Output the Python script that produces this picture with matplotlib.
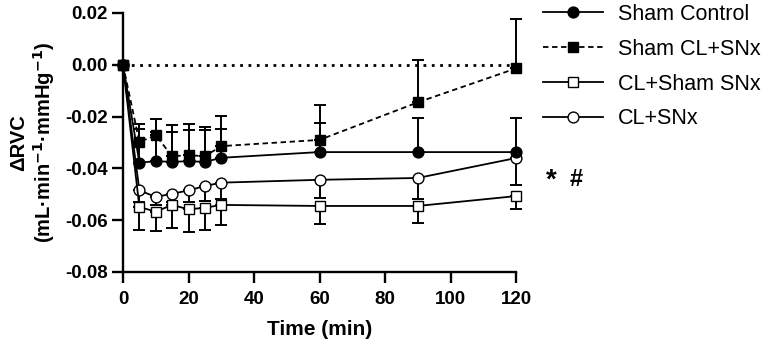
import matplotlib
matplotlib.use("Agg")
import matplotlib.pyplot as plt
from matplotlib.lines import Line2D

time_min = [0, 5, 10, 15, 20, 25, 30, 60, 90, 120]

sham_control = [0, -0.0378, -0.0372, -0.0375, -0.0372, -0.0375, -0.0359, -0.0337, -0.0337, -0.0337]
sham_control_err = [0, 0.0131, 0.0112, 0.0116, 0.0122, 0.0122, 0.0112, 0.0112, 0.0130, 0.0130]

sham_cl_snx = [0, -0.0298, -0.0272, -0.0353, -0.0349, -0.0353, -0.0314, -0.0290, -0.0145, -0.0014]
sham_cl_snx_err = [0, 0.0070, 0.0063, 0.0120, 0.0119, 0.0113, 0.0118, 0.0136, 0.0162, 0.0192]

cl_sham_snx = [0, -0.0549, -0.0567, -0.0541, -0.0558, -0.0552, -0.0541, -0.0545, -0.0545, -0.0507]
cl_sham_snx_err = [0, 0.0087, 0.0074, 0.0091, 0.0086, 0.0086, 0.0078, 0.0070, 0.0065, 0.0051]

cl_snx = [0, -0.0485, -0.0510, -0.0498, -0.0485, -0.0468, -0.0455, -0.0444, -0.0437, -0.0360]
cl_snx_err = [0, 0.0045, 0.0030, 0.0032, 0.0045, 0.0059, 0.0065, 0.0070, 0.0083, 0.0105]

labels = ["Sham Control", "Sham CL+SNx", "CL+Sham SNx", "CL+SNx"]
x_ticks = [0, 20, 40, 60, 80, 100, 120]
y_ticks = [0.02, 0.00, -0.02, -0.04, -0.06, -0.08]

plt.rcParams['font.family'] = ['Liberation Sans', 'DejaVu Sans']

fig = plt.figure(figsize=(7.67, 3.43), dpi=100)
W, H = 767, 343
ax = fig.add_axes([123 / W, 1 - 272 / H, (516 - 123) / W, (272 - 13) / H])

ax.plot([0, 120], [0, 0], linestyle=(0, (1, 2)), color='black', lw=2.0, zorder=1, clip_on=False)

lw = 1.3
ms = 7.8
cap = 4.5
specs = [
    (cl_snx, cl_snx_err, 'down', 'o', 'white', '-', 3),
    (cl_sham_snx, cl_sham_snx_err, 'down', 's', 'white', '-', 2),
    (sham_control, sham_control_err, 'up', 'o', 'black', '-', 0),
    (sham_cl_snx, sham_cl_snx_err, 'up', 's', 'black', (0, (3, 2)), 1),
]
handles = {}
for i, (y, e, d, mk, fc, ls, li) in enumerate(specs):
    zero = [0] * len(e)
    yerr = [e, zero] if d == 'down' else [zero, e]
    z = 2 + i
    ax.errorbar(time_min, y, yerr=yerr, fmt='none', ecolor='black', elinewidth=1.4,
                capsize=cap, capthick=1.4, zorder=z, clip_on=False)
    ax.plot(time_min, y, linestyle=ls, color='black', lw=lw, marker=mk, markersize=ms,
            markerfacecolor=fc, markeredgecolor='black', markeredgewidth=1.0,
            zorder=z + 0.5, clip_on=False)
    handles[li] = Line2D([], [], linestyle=ls, color='black', lw=lw, marker=mk,
                         markersize=ms, markerfacecolor=fc, markeredgecolor='black',
                         markeredgewidth=1.0)

ax.set_xlim(0, 120)
ax.set_ylim(-0.08, 0.02)
ax.set_xticks(x_ticks)
ax.set_yticks(y_ticks)
ax.set_xticklabels([str(t) for t in x_ticks])
ax.set_yticklabels([f"{t:.2f}" for t in y_ticks])
for s in ['top', 'right']:
    ax.spines[s].set_visible(False)
for s in ['left', 'bottom']:
    ax.spines[s].set_linewidth(1.7)
ax.tick_params(axis='both', width=1.7, length=8, labelsize=13.5)
ax.tick_params(axis='x', pad=6)
ax.tick_params(axis='y', pad=3)
for lab in ax.get_xticklabels() + ax.get_yticklabels():
    lab.set_fontweight('bold')

ax.set_xlabel("Time (min)", fontsize=15, fontweight='bold', labelpad=8)
ax.set_ylabel("ΔRVC\n(mL·min$^{\\mathbf{-1}}$·mmHg$^{\\mathbf{-1}}$)", fontsize=14.5,
              fontweight='bold', labelpad=6, linespacing=1.15)

leg = fig.legend([handles[k] for k in range(4)], labels, loc='upper left',
                 bbox_to_anchor=(543 / W, 1 - 4 / H), frameon=False, fontsize=15.5,
                 handlelength=2.8, handletextpad=0.7, labelspacing=0.64,
                 borderpad=0, borderaxespad=0)

fig.text(551 / W, 1 - 181 / H, "*", fontsize=20, fontweight='bold', ha='center', va='center')
fig.text(576 / W, 1 - 180 / H, "#", fontsize=17, fontweight='bold', ha='center', va='center')

fig.savefig("out.png", dpi=100)
